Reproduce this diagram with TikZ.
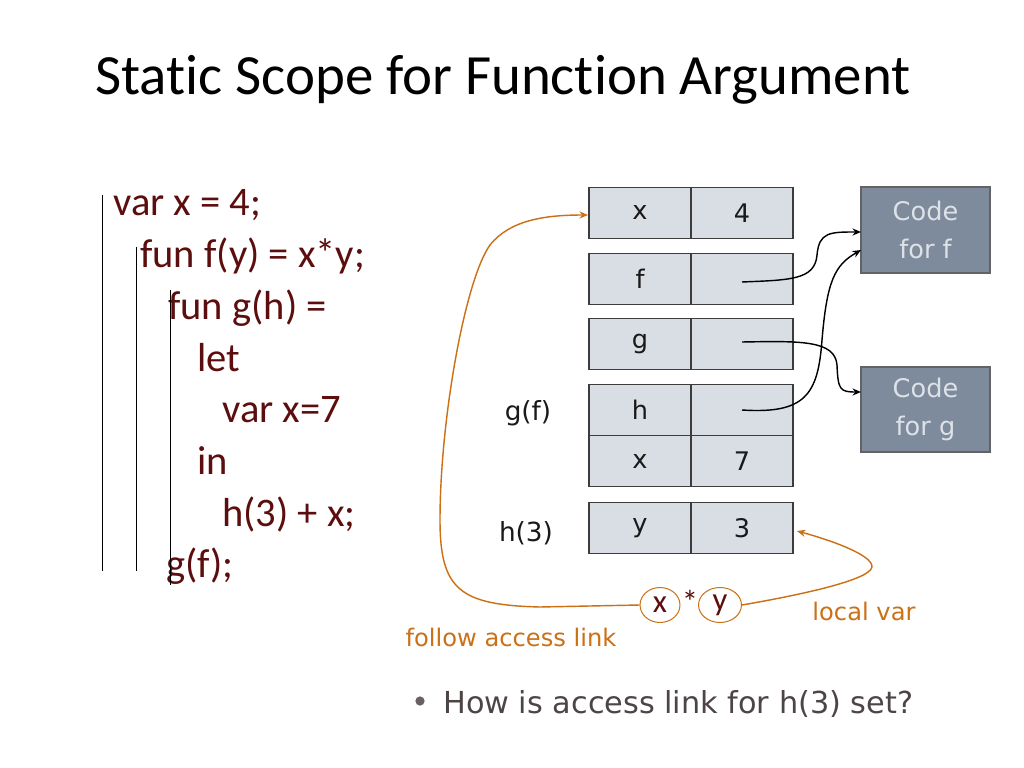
\documentclass[tikz,border=0pt]{standalone}
\usepackage{fontspec}
\setmainfont{Carlito}[Ligatures=NoCommon]
\newfontfamily\tah{DejaVu Sans}
\usetikzlibrary{shapes.geometric,arrows.meta}
\definecolor{codered}{RGB}{92,14,14}
\definecolor{linkorange}{RGB}{204,112,22}
\definecolor{cellfill}{RGB}{217,221,228}
\definecolor{cellline}{RGB}{60,60,60}
\definecolor{boxfill}{RGB}{125,139,157}
\definecolor{boxtext}{RGB}{222,226,232}
\definecolor{bulletgray}{RGB}{77,69,69}
\tikzset{
  codeline/.style={anchor=base west, inner sep=0pt, text=codered, font=\fontsize{28.5pt}{34pt}\selectfont},
  cell/.style={draw=cellline, line width=0.9pt, fill=cellfill, minimum width=71.72pt, minimum height=35.86pt, inner sep=0pt, text=black!90, font=\tah\fontsize{18pt}{21pt}\selectfont},
  codebox/.style={draw=cellline!80, line width=0.8pt, fill=boxfill, minimum width=90.7pt, inner sep=0pt, text=boxtext, align=center, font=\tah\fontsize{18pt}{27pt}\selectfont},
  framelabel/.style={inner sep=0pt, text=black!90, font=\tah\fontsize{18.5pt}{22pt}\selectfont},
  orangelabel/.style={inner sep=0pt, text=linkorange, font=\tah\fontsize{17pt}{20pt}\selectfont},
  varoval/.style={ellipse, draw=linkorange, line width=0.7pt, inner sep=0pt, text=codered, font=\fontsize{23pt}{26pt}\selectfont},
  scopeline/.style={black, line width=0.7pt},
  ptr/.style={black, line width=1pt, -{Stealth[length=6pt,width=5pt]}},
  link/.style={linkorange, line width=1pt, -{Stealth[length=6pt,width=5pt]}}
}
\begin{document}
\begin{tikzpicture}[x=0.703125pt,y=-0.703125pt]
\useasboundingbox[fill=white] (0,0) rectangle (1024,768);

% title
\node[anchor=base west, inner sep=0pt, font=\fontsize{40pt}{48pt}\selectfont] (title) at (95,95) {Static Scope for Function Argument};

% code
\node[codeline] (c1) at (113,216) {var x = 4;};
\node[codeline] (c2) at (140,268) {fun f(y) = x*y;};
\node[codeline] (c3) at (168,319) {fun g(h) =};
\node[codeline] (c4) at (197,371) {let};
\node[codeline] (c5) at (222,422) {var x=7};
\node[codeline] (c6) at (197,474) {in};
\node[codeline] (c7) at (222,526) {h(3) + x;};
\node[codeline] (c8) at (166,577) {g(f);};

% scope lines
\coordinate (s1a) at (102,195); \coordinate (s1b) at (102,571);
\coordinate (s2a) at (136,247); \coordinate (s2b) at (136,571);
\coordinate (s3a) at (170,290); \coordinate (s3b) at (170,585);
\draw[scopeline] (s1a) -- (s1b);
\draw[scopeline] (s2a) -- (s2b);
\draw[scopeline] (s3a) -- (s3b);

% stack cells
\node[cell] (xn) at (640,213) {x};
\node[cell] (xv) at (742,213) {4};
\node[cell] (fn) at (640,279) {f};
\node[cell] (fv) at (742,279) {};
\node[cell] (gn) at (640,344) {g};
\node[cell] (gv) at (742,344) {};
\node[cell] (hn) at (640,410) {h};
\node[cell] (hv) at (742,410) {};
\node[cell] (x7n) at (640,461) {x};
\node[cell] (x7v) at (742,461) {7};
\node[cell] (yn) at (640,528) {y};
\node[cell] (yv) at (742,528) {3};

% frame labels
\node[framelabel] (gf) at (528,413) {g(f)};
\node[framelabel] (h3) at (526,533) {h(3)};

% code boxes
\node[codebox, minimum height=60.5pt] (codef) at (925.5,230) {Code\\for f};
\node[codebox, minimum height=59.8pt] (codeg) at (925.5,409.5) {Code\\for g};

% pointers
\coordinate (fp) at (742,282);
\coordinate (gp) at (742,342);
\coordinate (hp) at (742,410);
\coordinate (cf1) at (861,232);
\coordinate (cf2) at (861,250);
\coordinate (cg1) at (861,392);
\draw[ptr] (fp) .. controls (790,280) and (815,280) .. (817,255) .. controls (819,232) and (830,232) .. (cf1);
\draw[ptr] (hp) .. controls (805,414) and (818,395) .. (822,340) .. controls (827,280) and (835,265) .. (cf2);
\draw[ptr] (gp) .. controls (800,341) and (835,340) .. (837,365) .. controls (838,390) and (840,392) .. (cg1);

% x*y
\node[varoval, minimum width=28.1pt, minimum height=24.6pt] (ox) at (660,605) {x};
\node[varoval, minimum width=30.2pt, minimum height=24.6pt] (oy) at (720,605) {y};
\node[inner sep=0pt, text=codered, font=\fontsize{23pt}{26pt}\selectfont] (star) at (690,602) {*};

% access link arrows
\coordinate (xtip) at (588,215);
\coordinate (ytip) at (797,531);
\draw[link] (ox.west) -- (540,607) .. controls (460,605) and (440,590) .. (440,520) .. controls (440,420) and (465,280) .. (490,245) .. controls (510,220) and (545,215) .. (xtip);
\draw[link] (oy.east) .. controls (800,595) and (870,580) .. (872,567) .. controls (873,555) and (830,540) .. (ytip);

\node[orangelabel] (lv) at (864,611) {local var};
\node[orangelabel] (fal) at (511,637) {follow access link};

% bullet
\node[circle, fill=bulletgray!85, inner sep=0pt, minimum size=6.5pt] (dot) at (420,701) {};
\node[anchor=base west, inner sep=0pt, text=bulletgray, font=\tah\fontsize{21.3pt}{25pt}\selectfont] (q) at (443,713) {How is access link for h(3) set?};
\end{tikzpicture}
\end{document}
